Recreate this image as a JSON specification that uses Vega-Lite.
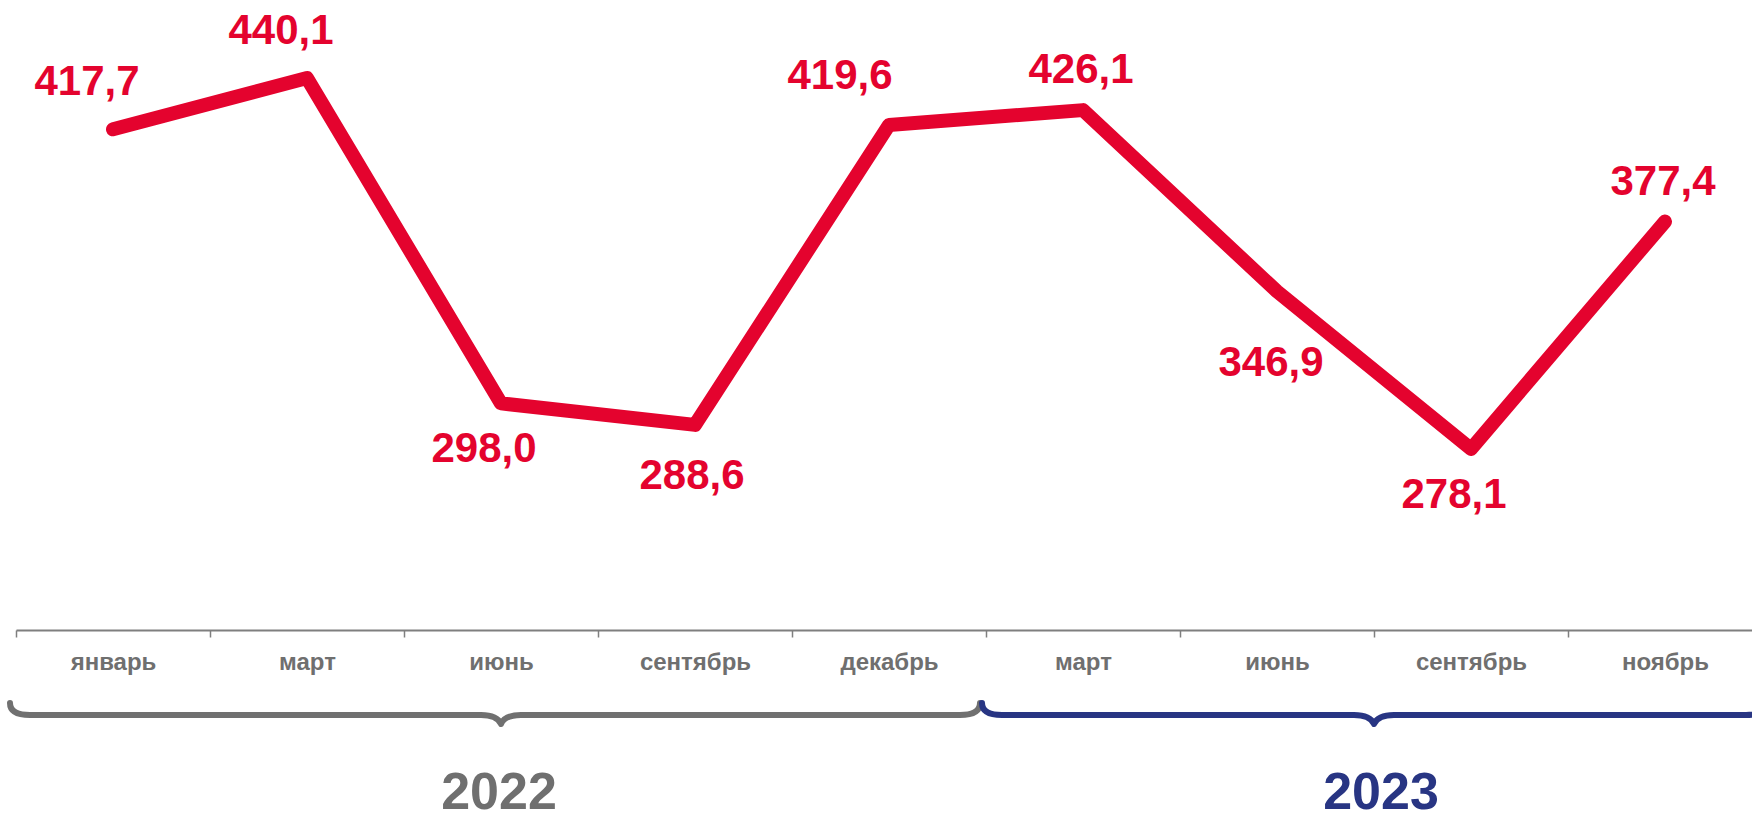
{
  "$schema": "https://vega.github.io/schema/vega-lite/v6.json",
  "width": 1736,
  "height": 630,
  "autosize": {"type": "none"},
  "padding": {"left": 16, "top": 0, "right": 0, "bottom": 184},
  "background": "white",
  "config": {
    "view": {"stroke": null},
    "font": "Liberation Sans",
    "locale": {"number": {"decimal": ",", "thousands": " ", "grouping": [3], "currency": ["", ""]}}
  },
  "data": {
    "values": [
      {"period": "январь 2022", "value": 417.7},
      {"period": "март 2022", "value": 440.1},
      {"period": "июнь 2022", "value": 298.0},
      {"period": "сентябрь 2022", "value": 288.6},
      {"period": "декабрь 2022", "value": 419.6},
      {"period": "март 2023", "value": 426.1},
      {"period": "июнь 2023", "value": 346.9},
      {"period": "сентябрь 2023", "value": 278.1},
      {"period": "ноябрь 2023", "value": 377.4}
    ]
  },
  "encoding": {
    "x": {
      "field": "period",
      "type": "ordinal",
      "sort": null,
      "scale": {
        "type": "band",
        "paddingInner": 0,
        "paddingOuter": 0,
        "range": [0, 1746],
        "domain": ["январь 2022", "март 2022", "июнь 2022", "сентябрь 2022", "декабрь 2022", "март 2023", "июнь 2023", "сентябрь 2023", "ноябрь 2023"]
      },
      "axis": {
        "title": null,
        "labelExpr": "split(datum.label, ' ')[0]",
        "tickBand": "extent",
        "domainColor": "#7f7f7f",
        "domainWidth": 2,
        "tickColor": "#7f7f7f",
        "tickWidth": 1.5,
        "tickSize": 7,
        "labelFont": "Liberation Sans",
        "labelFontSize": 24,
        "labelFontWeight": "bold",
        "labelColor": "#6f6f6f",
        "labelBaseline": "alphabetic",
        "labelPadding": 32,
        "labelAngle": 0,
        "labelOverlap": false,
        "grid": false
      }
    },
    "y": {
      "field": "value",
      "type": "quantitative",
      "scale": {"domain": [199, 474.2], "nice": false, "zero": false},
      "axis": null
    }
  },
  "layer": [
    {
      "mark": {"type": "line", "color": "#e4032e", "strokeWidth": 14, "strokeCap": "round", "strokeJoin": "round"}
    },
    {
      "transform": [{"filter": {"field": "period", "oneOf": ["январь 2022", "март 2022"]}}],
      "mark": {"type": "text", "dx": -26, "dy": -34, "align": "center", "baseline": "alphabetic", "fontSize": 42, "fontWeight": "bold", "color": "#e4032e"},
      "encoding": {"text": {"field": "value", "type": "quantitative", "format": ".1f"}}
    },
    {
      "transform": [{"filter": {"field": "period", "oneOf": ["декабрь 2022"]}}],
      "mark": {"type": "text", "dx": -49, "dy": -36, "align": "center", "baseline": "alphabetic", "fontSize": 42, "fontWeight": "bold", "color": "#e4032e"},
      "encoding": {"text": {"field": "value", "type": "quantitative", "format": ".1f"}}
    },
    {
      "transform": [{"filter": {"field": "period", "oneOf": ["март 2023", "ноябрь 2023"]}}],
      "mark": {"type": "text", "dx": -2, "dy": -27, "align": "center", "baseline": "alphabetic", "fontSize": 42, "fontWeight": "bold", "color": "#e4032e"},
      "encoding": {"text": {"field": "value", "type": "quantitative", "format": ".1f"}}
    },
    {
      "transform": [{"filter": {"field": "period", "oneOf": ["июнь 2022", "сентябрь 2023"]}}],
      "mark": {"type": "text", "dx": -17, "dy": 59, "align": "center", "baseline": "alphabetic", "fontSize": 42, "fontWeight": "bold", "color": "#e4032e"},
      "encoding": {"text": {"field": "value", "type": "quantitative", "format": ".1f"}}
    },
    {
      "transform": [{"filter": {"field": "period", "oneOf": ["сентябрь 2022"]}}],
      "mark": {"type": "text", "dx": -3, "dy": 64, "align": "center", "baseline": "alphabetic", "fontSize": 42, "fontWeight": "bold", "color": "#e4032e"},
      "encoding": {"text": {"field": "value", "type": "quantitative", "format": ".1f"}}
    },
    {
      "transform": [{"filter": {"field": "period", "oneOf": ["июнь 2023"]}}],
      "mark": {"type": "text", "dx": -6, "dy": 85, "align": "center", "baseline": "alphabetic", "fontSize": 42, "fontWeight": "bold", "color": "#e4032e"},
      "encoding": {"text": {"field": "value", "type": "quantitative", "format": ".1f"}}
    },
    {
      "data": {"values": [{"year": "2022", "period": "июнь 2022", "value": 161.9}]},
      "mark": {"type": "point", "shape": "M -1 -0.02444 Q -1 0 -0.95927 0 L -0.04073 0 Q -0.00815 0 0 0.01833 Q 0.00815 0 0.04073 0 L 0.93483 0 Q 0.97556 0 0.97556 -0.02444", "size": 964324, "filled": false, "fill": "transparent", "stroke": "#707070", "strokeWidth": 6, "strokeCap": "round", "strokeJoin": "round", "opacity": 1}
    },
    {
      "data": {"values": [{"year": "2023", "period": "июнь 2023", "value": 161.9}]},
      "mark": {"type": "point", "shape": "M -1 -0.03061 Q -1 0 -0.94898 0 L -0.05102 0 Q -0.0102 0 0 0.02296 Q 0.0102 0 0.05102 0 L 0.94898 0 Q 1 0 1 -0.03061", "size": 614656, "filled": false, "fill": "transparent", "stroke": "#283583", "strokeWidth": 6, "strokeCap": "round", "strokeJoin": "round", "opacity": 1},
      "encoding": {"x": {"field": "period", "type": "ordinal", "bandPosition": 1}}
    },
    {
      "data": {"values": [{"year": "2022", "period": "июнь 2022", "value": 121}]},
      "mark": {"type": "text", "dx": -2, "align": "center", "baseline": "alphabetic", "fontSize": 52, "fontWeight": "bold", "color": "#6f6f6f"},
      "encoding": {"text": {"field": "year", "type": "nominal"}}
    },
    {
      "data": {"values": [{"year": "2023", "period": "июнь 2023", "value": 121}]},
      "mark": {"type": "text", "dx": 7, "align": "center", "baseline": "alphabetic", "fontSize": 52, "fontWeight": "bold", "color": "#283583"},
      "encoding": {"x": {"field": "period", "type": "ordinal", "bandPosition": 1}, "text": {"field": "year", "type": "nominal"}}
    }
  ]
}
